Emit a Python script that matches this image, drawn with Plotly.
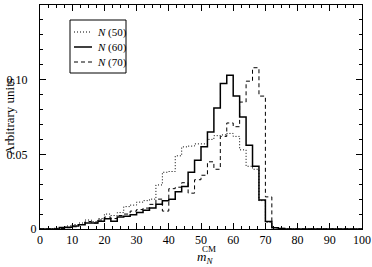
import plotly.graph_objects as go

# bin edges (width 2) from 0 to 100
bin_edges = list(range(0, 102, 2))

n50 = [0, 0, 0.0005, 0.0010, 0.0020, 0.0030, 0.0040, 0.0060, 0.0050, 0.0070,
       0.0100, 0.0090, 0.0110, 0.0150, 0.0160, 0.0180, 0.0190, 0.0200, 0.0295, 0.0380,
       0.0385, 0.0490, 0.0550, 0.0555, 0.0570, 0.0570, 0.0600, 0.0625, 0.0630, 0.0640,
       0.0620, 0.0530, 0.0420, 0.0400, 0.0190, 0.0045, 0.0008, 0.0003, 0, 0,
       0, 0, 0, 0, 0, 0, 0, 0, 0, 0]

n60 = [0, 0, 0, 0.0010, 0.0012, 0.0020, 0.0028, 0.0040, 0.0040, 0.0052,
       0.0068, 0.0052, 0.0080, 0.0085, 0.0095, 0.0110, 0.0125, 0.0140, 0.0165, 0.0190,
       0.0200, 0.0250, 0.0285, 0.0380, 0.0460, 0.0550, 0.0650, 0.0810, 0.0975, 0.1030,
       0.0890, 0.0750, 0.0560, 0.0420, 0.0195, 0.0050, 0.0008, 0.0003, 0, 0,
       0, 0, 0, 0, 0, 0, 0, 0, 0, 0]

n70 = [0, 0, 0, 0.0003, 0.0008, 0.0015, 0.0030, 0.0050, 0.0040, 0.0060,
       0.0080, 0.0070, 0.0090, 0.0100, 0.0120, 0.0130, 0.0140, 0.0165, 0.0200, 0.0120,
       0.0270, 0.0280, 0.0310, 0.0240, 0.0330, 0.0360, 0.0450, 0.0400, 0.0620, 0.0710,
       0.0685, 0.0850, 0.0990, 0.1080, 0.0890, 0.0215, 0.0010, 0.0004, 0, 0,
       0, 0, 0, 0, 0, 0, 0, 0, 0, 0]

series_names = ["<i>N</i> (50)", "<i>N</i> (60)", "<i>N</i> (70)"]
y_ticks = [0, 0.05, 0.10, 0.15]
y_tick_labels = ["0", "0.05\u00a0\u00a0\u00a0", "0.10\u00a0\u00a0\u00a0", "0.15\u00a0\u00a0\u00a0"]
x_ticks = list(range(0, 101, 10))

FONT = "Liberation Serif"
W, H = 372, 267
# plotting region starts at the page edge; the x axis domain leaves room for the y labels
ML, MR, MT, MB = 0, 10, 5, 38
AXL = 40  # pixel position of the y axis line
PW, PH = W - ML - MR, H - MT - MB


def px(x):
    return (x - ML) / PW


def py(y):
    return (H - MB - y) / PH


def steps(vals):
    return bin_edges, list(vals) + [vals[-1]]


styles = [
    dict(color="black", width=1, dash="1px,2px"),
    dict(color="black", width=1.5, dash="solid"),
    dict(color="black", width=1, dash="4px,3px"),
]

fig = go.Figure()
for name, vals, st in zip(series_names, [n50, n60, n70], styles):
    xs, ys = steps(vals)
    fig.add_trace(go.Scatter(x=xs, y=ys, mode="lines", line_shape="hv",
                             line=st, name=name, showlegend=False))

axis_common = dict(showgrid=False, zeroline=False, showline=True, linecolor="black",
                   linewidth=1, mirror="allticks", ticks="inside", tickcolor="black",
                   automargin=False,
                   tickfont=dict(family=FONT, size=12, color="black"))

fig.update_xaxes(range=[0, 100], tickvals=x_ticks, ticklen=6, tickwidth=1,
                 domain=[px(AXL), 1],
                 minor=dict(dtick=2.5, ticklen=3, ticks="inside", tickcolor="black"),
                 **axis_common)
fig.update_yaxes(range=[0, 0.15], tickvals=y_ticks, ticktext=y_tick_labels,
                 ticklen=6, tickwidth=1,
                 minor=dict(dtick=0.01, ticklen=3, ticks="inside", tickcolor="black"),
                 **axis_common)

# y-axis title
fig.add_annotation(xref="paper", yref="paper", x=px(9), y=py(117), textangle=-90,
                   xanchor="center", yanchor="middle",
                   text="Arbitrary units", showarrow=False,
                   font=dict(family=FONT, size=13, color="black"))

# x-axis title  m_N^CM
fig.add_annotation(xref="paper", yref="paper", x=px(209), y=py(248.5),
                   text="CM", showarrow=False, xanchor="center", yanchor="middle",
                   borderpad=0,
                   font=dict(family=FONT, size=9, color="black"))
fig.add_annotation(xref="paper", yref="paper", x=px(205), y=py(248), yanchor="top",
                   xanchor="center", borderpad=0,
                   text="<i>m</i><sub><i>N</i></sub>", showarrow=False,
                   font=dict(family=FONT, size=13, color="black"))

# legend box drawn by hand to match the compact reference legend
fig.add_shape(type="rect", xref="paper", yref="paper",
              x0=px(70), x1=px(126), y0=py(73), y1=py(20),
              line=dict(color="black", width=1), fillcolor="white", layer="above")
for i, (name, st) in enumerate(zip(series_names, styles)):
    yy = 32 + 15 * i
    fig.add_shape(type="line", xref="paper", yref="paper",
                  x0=px(74), x1=px(92), y0=py(yy), y1=py(yy),
                  line=dict(color="black", width=st["width"], dash=st["dash"]),
                  layer="above")
    fig.add_annotation(xref="paper", yref="paper", x=px(95), y=py(yy),
                       xanchor="left", yanchor="middle", text=name, showarrow=False,
                       font=dict(family=FONT, size=11, color="black"))

fig.update_layout(
    width=W, height=H,
    margin=dict(l=ML, r=MR, t=MT, b=MB, autoexpand=False),
    paper_bgcolor="white", plot_bgcolor="white",
    font=dict(family=FONT, color="black"),
    showlegend=False,
)

post_js = """
document.body.style.margin = '0';
function fixYTitle() {
  try {
    var texts = document.querySelectorAll('text');
    for (var i = 0; i < texts.length; i++) {
      var t = texts[i];
      if (t.textContent.indexOf('Arbitrary units') < 0) continue;
      var g = (t.closest && t.closest('g.annotation')) || t.parentNode;
      var cur = g.getAttribute('transform') || '';
      var mine = g.getAttribute('data-mine');
      var base, applied;
      if (mine !== null && cur === mine) {
        base = g.getAttribute('data-base') || '';
        applied = parseFloat(g.getAttribute('data-applied') || '0');
      } else {
        base = cur; applied = 0;
      }
      var bb = t.getBoundingClientRect();
      var d = 9 - (bb.left + bb.width / 2);
      if (Math.abs(d) > 1) {
        var nd = applied + d;
        var tr = 'translate(' + nd + ',0) ' + base;
        g.setAttribute('transform', tr);
        g.setAttribute('data-mine', tr);
        g.setAttribute('data-base', base);
        g.setAttribute('data-applied', String(nd));
      }
    }
  } catch (e) {}
}
fixYTitle();
setInterval(fixYTitle, 60);
"""

fig.write_html("out.html", config={"displayModeBar": False, "responsive": False},
               post_script=post_js)
